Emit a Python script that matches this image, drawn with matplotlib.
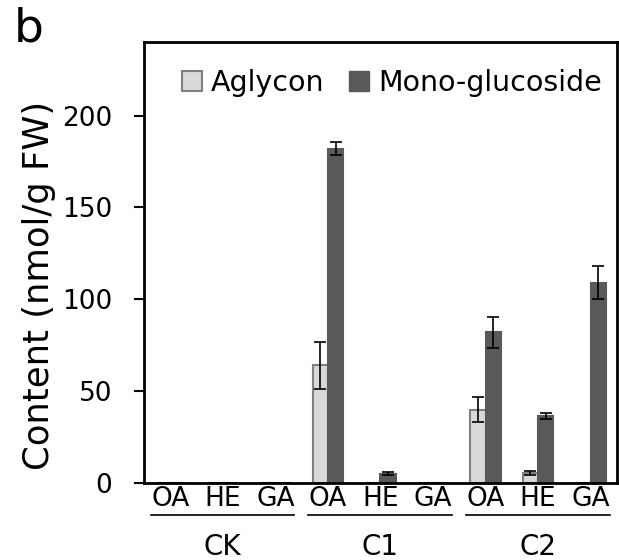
import numpy as np
import matplotlib.pyplot as plt
from matplotlib.patches import Patch
from matplotlib.transforms import blended_transform_factory

plt.rcParams['font.family'] = ['DejaVu Sans']

groupes = ["CK", "C1", "C2"]
composes = ["OA", "HE", "GA"]

aglycon = [0, 0, 0, 64, 0, 0, 40, 5.5, 0]
aglycon_err = [0, 0, 0, 13, 0, 0, 7, 1, 0]
mono = [0, 0, 0, 182, 5, 0, 82, 36.5, 109]
mono_err = [0, 0, 0, 3.5, 0.8, 0, 8.5, 1.5, 9]

c_agly = "#d9d9d9"
c_mono = "#595959"

fig = plt.figure(figsize=(6.19, 5.6), dpi=100)
ax = fig.add_axes([0.2326, 0.1375, 0.764, 0.7875])

x = np.arange(len(aglycon))
w = 0.29
err_style = dict(ecolor="black", elinewidth=1.2, capsize=4.3, capthick=1.2)
ax.bar(x - w / 2, aglycon, w, color=c_agly, edgecolor="#808080", linewidth=1.5,
       yerr=aglycon_err, error_kw=err_style)
ax.bar(x + w / 2, mono, w, color=c_mono, edgecolor=c_mono, linewidth=1.5,
       yerr=mono_err, error_kw=err_style)

ax.set_xlim(-0.5, len(aglycon) - 0.5)
ax.set_ylim(0, 240)
ax.set_yticks([0, 50, 100, 150, 200])
ax.tick_params(axis="y", labelsize=19, length=7, width=1.5, direction="out", pad=16)

ax.set_xticks(x, composes * len(groupes))
ax.tick_params(axis="x", labelsize=19, length=0, pad=2)

for s in ax.spines.values():
    s.set_linewidth(2)

# etiquette de l'axe y placee a la main (plus basse que le centre)
fig.text(0.063, 0.49, "Content (nmol/g FW)", fontsize=25.5, rotation=90,
         ha="center", va="center")

trans = blended_transform_factory(ax.transData, ax.transAxes)
for i, g in enumerate(groupes):
    x0 = 3 * i - 0.37
    x1 = 3 * i + 2.36
    ax.plot([x0, x1], [-0.073, -0.073], color="black", lw=1.2,
            transform=trans, clip_on=False)
    ax.text(3 * i + 1, -0.145, g, transform=trans, ha="center", va="center",
            fontsize=20)

handles = [Patch(facecolor=c_agly, edgecolor="#808080", linewidth=1.5),
           Patch(facecolor=c_mono, edgecolor=c_mono)]
ax.legend(handles, ["Aglycon", "Mono-glucoside"], loc="upper right",
          frameon=False, fontsize=20.5, ncol=2, handlelength=0.7, handleheight=0.7,
          handletextpad=0.3, columnspacing=0.9, bbox_to_anchor=(1.01, 0.985),
          borderpad=0.2)

fig.text(0.022, 0.988, "b", fontsize=34, va="top", ha="left")

plt.savefig("out.png", dpi=100)
